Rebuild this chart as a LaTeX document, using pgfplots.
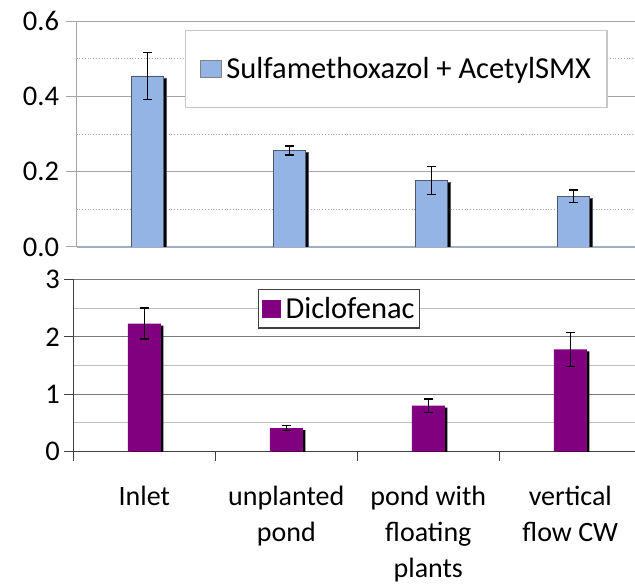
\documentclass[border=0pt]{standalone}
\usepackage{pgfplots}
\pgfplotsset{compat=1.18}
\usepackage{pgfplotstable}
\usepackage{fontspec}
\setmainfont{Carlito}

\definecolor{smxblue}{RGB}{148,180,230}
\definecolor{smxedge}{RGB}{80,88,105}
\definecolor{dclpurple}{RGB}{128,0,128}
\definecolor{topaxis}{RGB}{160,174,196}
\definecolor{topgrid}{RGB}{165,165,165}
\definecolor{botmajor}{RGB}{120,120,120}
\definecolor{botminor}{RGB}{190,190,190}

% concentration, with standard deviation
\pgfplotstableread{
x y e
0 0.454 0.063
1 0.256 0.012
2 0.176 0.037
3 0.135 0.016
}\smx
\pgfplotstableread{
x y e
0 2.23 0.27
1 0.41 0.045
2 0.80 0.116
3 1.78 0.30
}\dcl

\pgfplotsset{
  tickfont/.style={font=\fontsize{28.5bp}{34bp}\selectfont},
  catfont/.style={font=\fontsize{28bp}{36bp}\selectfont},
  legfont/.style={font=\fontsize{30.5bp}{36bp}\selectfont},
  common/.style={
    scale only axis, width=568bp,
    xmin=-0.5, xmax=3.5, ymin=0,
    axis x line*=bottom, axis y line*=left,
    tick align=outside, tick pos=left,
    major tick length=9bp, minor tick length=9bp,
    every minor y tick/.style={draw=none},
    ymajorgrids, yminorgrids,
    yticklabel style={tickfont},
    /pgf/number format/assume math mode=true,
    clip=true,
  },
  errs/.style={
    error bars/y dir=both, error bars/y explicit,
    error bars/error bar style={black, line width=1.3bp},
    error bars/error mark options={rotate=90, mark size=4.5bp, line width=1.3bp, black},
  },
}

\begin{document}
\begin{tikzpicture}
\useasboundingbox (0bp,0bp) rectangle (635bp,585bp);
\clip (0bp,0bp) rectangle (635bp,585bp);

% upper panel: sulfamethoxazole
\begin{axis}[common,
  at={(76.5bp,338bp)}, anchor=south west, height=226bp,
  ymax=0.6,
  ytick={0,0.2,0.4,0.6}, minor ytick={0.1,0.3,0.5},
  yticklabel style={xshift=-4bp, /pgf/number format/fixed,
    /pgf/number format/fixed zerofill, /pgf/number format/precision=1},
  xtick=\empty,
  major tick length=10bp,
  x axis line style={topaxis, line width=1.6bp},
  y axis line style={topgrid, line width=1bp},
  major grid style={topgrid, line width=0.9bp},
  minor grid style={topgrid, line width=0.8bp, dotted},
  ytick style={topgrid, line width=1bp},
  legend style={at={(0.191,0.960)}, anchor=north west,
    draw=black!22, line width=1.3bp, legfont,
    inner xsep=14bp, inner ysep=25bp,
    /tikz/every odd column/.append style={column sep=3bp}},
  legend image code/.code={%
    \pgfsetfillcolor{smxblue}\pgfsetstrokecolor{gray}\pgfsetlinewidth{0.8bp}%
    \pgfpathrectangle{\pgfpoint{0bp}{-8.5bp}}{\pgfpoint{21bp}{17bp}}%
    \pgfusepath{fill,stroke}},
]
\addplot[ybar, bar width=32bp, fill=smxblue, draw=smxedge, line width=0.8bp,
  preaction={fill=black, transform canvas={shift={(2.5bp,-2bp)}}}, errs]
  table[x=x, y=y, y error=e] {\smx};
\addlegendentry{Sulfamethoxazol + AcetylSMX}
\end{axis}

% lower panel: diclofenac
\begin{axis}[common,
  at={(73.3bp,133.3bp)}, anchor=south west, height=172.4bp,
  ymax=3,
  ytick={0,1,2,3}, minor ytick={0.5,1.5,2.5},
  yticklabel style={xshift=-1bp},
  xtick={0,1,2,3},
  xticklabels={Inlet, unplanted\\pond, pond with\\floating\\plants, vertical\\flow CW},
  xticklabel style={catfont, align=center, anchor=north, yshift=-22bp},
  minor xtick={-0.5,0.5,1.5,2.5,3.5},
  every major x tick/.style={draw=none},
  axis line style={black!75, line width=1.3bp},
  tick style={black!75, line width=1.3bp},
  major grid style={botmajor, line width=1bp},
  minor grid style={botminor, line width=1bp},
  legend style={at={(0.325,0.945)}, anchor=north west,
    draw=black!75, line width=1.3bp, legfont,
    inner xsep=3bp, inner ysep=6bp,
    /tikz/every odd column/.append style={column sep=3bp}},
  legend image code/.code={%
    \pgfsetfillcolor{dclpurple}%
    \pgfpathrectangle{\pgfpoint{0bp}{-9bp}}{\pgfpoint{19bp}{18bp}}%
    \pgfusepath{fill}},
]
\addplot[ybar, bar width=33bp, fill=dclpurple, draw=none,
  preaction={fill=black, transform canvas={shift={(2.5bp,-2bp)}}}, errs]
  table[x=x, y=y, y error=e] {\dcl};
\addlegendentry{Diclofenac}
\end{axis}
\end{tikzpicture}
\end{document}
